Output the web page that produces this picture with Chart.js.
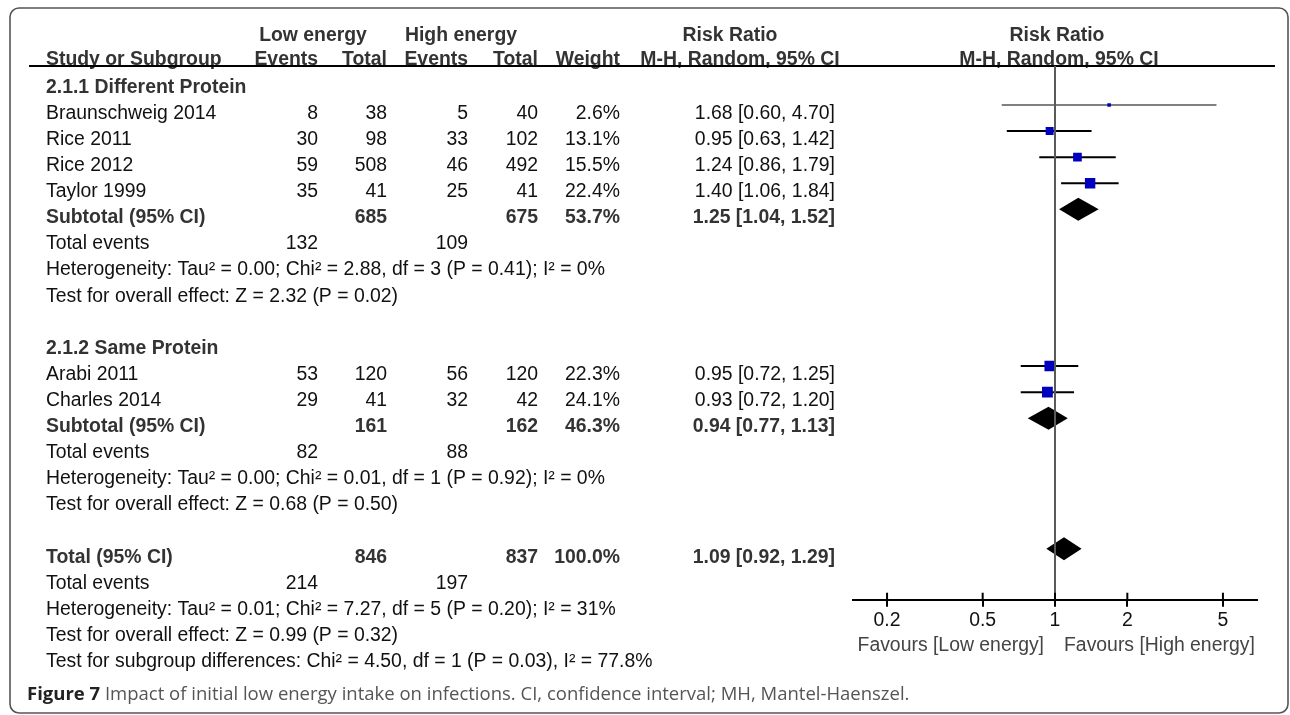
<!DOCTYPE html>
<html>
<head>
<meta charset="utf-8">
<script src="https://cdn.jsdelivr.net/npm/chart.js@4.4.0/dist/chart.umd.min.js"></script>
<style>
  html, body { margin: 0; padding: 0; background: #fff; }
  #wrap { width: 1290px; height: 715px; }
</style>
</head>
<body>
<div id="wrap"><canvas id="forest" width="1290" height="715"></canvas></div>
<script>
// --- data ---
const studies = ['Braunschweig 2014', 'Rice 2011', 'Rice 2012', 'Taylor 1999', 'Arabi 2011', 'Charles 2014'];
const studyRows = [1, 2, 3, 4, 11, 12];
const lowEvents = [8, 30, 59, 35, 53, 29];
const lowTotal = [38, 98, 508, 41, 120, 41];
const highEvents = [5, 33, 46, 25, 56, 32];
const highTotal = [40, 102, 492, 41, 120, 42];
const weights = [2.6, 13.1, 15.5, 22.4, 22.3, 24.1];
const riskRatio = [1.68, 0.95, 1.24, 1.40, 0.95, 0.93];
const ciLower = [0.60, 0.63, 0.86, 1.06, 0.72, 0.72];
const ciUpper = [4.70, 1.42, 1.79, 1.84, 1.25, 1.20];

const groupTitles = ['2.1.1 Different Protein', '2.1.2 Same Protein'];
const groupRows = [0, 10];

const pooledLabels = ['Subtotal (95% CI)', 'Subtotal (95% CI)', 'Total (95% CI)'];
const pooledRows = [5, 13, 18];
const pooledLowTotal = [685, 161, 846];
const pooledHighTotal = [675, 162, 837];
const pooledWeight = [53.7, 46.3, 100.0];
const pooledRR = [1.25, 0.94, 1.09];
const pooledLower = [1.04, 0.77, 0.92];
const pooledUpper = [1.52, 1.13, 1.29];

const eventRows = [6, 14, 19];
const eventsLow = [132, 82, 214];
const eventsHigh = [109, 88, 197];

const noteRows = [7, 8, 15, 16, 20, 21, 22];
const notes = [
    'Heterogeneity: Tau\u00b2 = 0.00; Chi\u00b2 = 2.88, df = 3 (P = 0.41); I\u00b2 = 0%',
    'Test for overall effect: Z = 2.32 (P = 0.02)',
    'Heterogeneity: Tau\u00b2 = 0.00; Chi\u00b2 = 0.01, df = 1 (P = 0.92); I\u00b2 = 0%',
    'Test for overall effect: Z = 0.68 (P = 0.50)',
    'Heterogeneity: Tau\u00b2 = 0.01; Chi\u00b2 = 7.27, df = 5 (P = 0.20); I\u00b2 = 31%',
    'Test for overall effect: Z = 0.99 (P = 0.32)',
    'Test for subgroup differences: Chi\u00b2 = 4.50, df = 1 (P = 0.03), I\u00b2 = 77.8%'
];

const xTicks = [0.2, 0.5, 1, 2, 5];

// --- layout / style ---
const FONT = '"Liberation Sans", Arial, Helvetica, sans-serif';
const CAPTION_FONT = '"Open Sans", "Noto Sans", sans-serif';
const FS = 19.4;
const TEXT_SHIFT = 8.5;          // text sits a little below the marks
const col = { name: 46, lowEv: 318, lowTot: 387, highEv: 468, highTot: 538, weight: 620, ci: 835 };

const fmtCI = (rr, lo, hi) => `${rr.toFixed(2)} [${lo.toFixed(2)}, ${hi.toFixed(2)}]`;

function text(ctx, s, x, y, align, bold, color, baseline) {
    ctx.font = `${bold ? 'bold ' : ''}${FS}px ${FONT}`;
    ctx.fillStyle = color || '#111';
    ctx.textAlign = align || 'left';
    ctx.textBaseline = baseline || 'middle';
    ctx.fillText(s, x, y);
}

const forestPlugin = {
    id: 'forest',
    beforeDraw(chart) {
        const ctx = chart.ctx;
        const y = chart.scales.y;
        const rowY = r => y.getPixelForValue(r) + TEXT_SHIFT;
        ctx.save();
        ctx.fillStyle = '#fff';
        ctx.fillRect(0, 0, chart.width, chart.height);

        // frame
        ctx.strokeStyle = '#555';
        ctx.lineWidth = 1.6;
        ctx.beginPath();
        ctx.roundRect(10, 8, 1278, 705, 9);
        ctx.stroke();

        // header
        const hc = '#333';
        text(ctx, 'Low energy', 313, 40.5, 'center', true, hc, 'alphabetic');
        text(ctx, 'High energy', 461, 40.5, 'center', true, hc, 'alphabetic');
        text(ctx, 'Risk Ratio', 730, 40.5, 'center', true, hc, 'alphabetic');
        text(ctx, 'Risk Ratio', 1057, 40.5, 'center', true, hc, 'alphabetic');
        text(ctx, 'Study or Subgroup', col.name, 65, 'left', true, hc, 'alphabetic');
        text(ctx, 'Events', col.lowEv, 65, 'right', true, hc, 'alphabetic');
        text(ctx, 'Total', col.lowTot, 65, 'right', true, hc, 'alphabetic');
        text(ctx, 'Events', col.highEv, 65, 'right', true, hc, 'alphabetic');
        text(ctx, 'Total', col.highTot, 65, 'right', true, hc, 'alphabetic');
        text(ctx, 'Weight', col.weight, 65, 'right', true, hc, 'alphabetic');
        text(ctx, 'M-H, Random, 95% CI', 740, 65, 'center', true, hc, 'alphabetic');
        text(ctx, 'M-H, Random, 95% CI', 1059, 65, 'center', true, hc, 'alphabetic');

        ctx.strokeStyle = '#000';
        ctx.lineWidth = 2;
        ctx.beginPath();
        ctx.moveTo(29, 66);
        ctx.lineTo(1275, 66);
        ctx.stroke();

        // group titles
        groupTitles.forEach((g, i) => text(ctx, g, col.name, rowY(groupRows[i]), 'left', true, hc));

        // studies
        studies.forEach((s, i) => {
            const ty = rowY(studyRows[i]);
            text(ctx, s, col.name, ty);
            text(ctx, String(lowEvents[i]), col.lowEv, ty, 'right');
            text(ctx, String(lowTotal[i]), col.lowTot, ty, 'right');
            text(ctx, String(highEvents[i]), col.highEv, ty, 'right');
            text(ctx, String(highTotal[i]), col.highTot, ty, 'right');
            text(ctx, weights[i].toFixed(1) + '%', col.weight, ty, 'right');
            text(ctx, fmtCI(riskRatio[i], ciLower[i], ciUpper[i]), col.ci, ty, 'right');
        });

        // subtotals / total
        pooledLabels.forEach((s, i) => {
            const ty = rowY(pooledRows[i]);
            text(ctx, s, col.name, ty, 'left', true, hc);
            text(ctx, String(pooledLowTotal[i]), col.lowTot, ty, 'right', true, hc);
            text(ctx, String(pooledHighTotal[i]), col.highTot, ty, 'right', true, hc);
            text(ctx, pooledWeight[i].toFixed(1) + '%', col.weight, ty, 'right', true, hc);
            text(ctx, fmtCI(pooledRR[i], pooledLower[i], pooledUpper[i]), col.ci, ty, 'right', true, hc);
        });

        // total events
        eventRows.forEach((r, i) => {
            const ty = rowY(r);
            text(ctx, 'Total events', col.name, ty);
            text(ctx, String(eventsLow[i]), col.lowEv, ty, 'right');
            text(ctx, String(eventsHigh[i]), col.highEv, ty, 'right');
        });

        notes.forEach((n, i) => text(ctx, n, col.name, rowY(noteRows[i])));

        // caption
        ctx.textBaseline = 'middle';
        ctx.textAlign = 'left';
        ctx.font = `bold 18.5px ${CAPTION_FONT}`;
        ctx.fillStyle = '#222';
        const lead = 'Figure 7';
        ctx.fillText(lead, 27, 695);
        const w = ctx.measureText(lead + ' ').width;
        ctx.font = `18.5px ${CAPTION_FONT}`;
        ctx.fillStyle = '#555';
        ctx.fillText('Impact of initial low energy intake on infections. CI, confidence interval; MH, Mantel-Haenszel.', 27 + w, 695);
        ctx.restore();
    },
    beforeDatasetsDraw(chart) {
        const ctx = chart.ctx;
        const { x, y } = chart.scales;
        ctx.save();
        // confidence intervals
        studies.forEach((s, i) => {
            const py = y.getPixelForValue(studyRows[i]);
            ctx.strokeStyle = weights[i] < 5 ? '#808080' : '#000';
            ctx.lineWidth = 2;
            ctx.beginPath();
            ctx.moveTo(x.getPixelForValue(ciLower[i]), py);
            ctx.lineTo(x.getPixelForValue(ciUpper[i]), py);
            ctx.stroke();
        });
        // pooled diamonds
        ctx.fillStyle = '#000';
        pooledRows.forEach((r, i) => {
            const py = y.getPixelForValue(r);
            const h = 11.5;
            ctx.beginPath();
            ctx.moveTo(x.getPixelForValue(pooledLower[i]), py);
            ctx.lineTo(x.getPixelForValue(pooledRR[i]), py - h);
            ctx.lineTo(x.getPixelForValue(pooledUpper[i]), py);
            ctx.lineTo(x.getPixelForValue(pooledRR[i]), py + h);
            ctx.closePath();
            ctx.fill();
        });
        ctx.restore();
    },
    afterDatasetsDraw(chart) {
        const ctx = chart.ctx;
        const { x } = chart.scales;
        const area = chart.chartArea;
        const x1 = x.getPixelForValue(1);
        ctx.save();
        // line of no effect
        ctx.strokeStyle = '#5a5a5a';
        ctx.lineWidth = 2;
        ctx.beginPath();
        ctx.moveTo(x1, 66);
        ctx.lineTo(x1, area.bottom);
        ctx.stroke();
        // upper half of tick marks
        ctx.strokeStyle = '#000';
        xTicks.forEach(t => {
            const px = x.getPixelForValue(t);
            ctx.beginPath();
            ctx.moveTo(px, area.bottom - 7);
            ctx.lineTo(px, area.bottom);
            ctx.stroke();
        });
        ctx.font = `${FS}px ${FONT}`;
        ctx.fillStyle = '#444';
        ctx.textBaseline = 'middle';
        ctx.textAlign = 'right';
        ctx.fillText('Favours [Low energy]', x1 - 11, 646);
        ctx.textAlign = 'left';
        ctx.fillText('Favours [High energy]', x1 + 9, 646);
        ctx.restore();
    }
};

new Chart(document.getElementById('forest'), {
    type: 'scatter',
    data: {
        datasets: [{
            data: studies.map((s, i) => ({ x: riskRatio[i], y: studyRows[i] })),
            pointStyle: 'rect',
            pointRadius: weights.map(w => 2.2 * Math.sqrt(w) / Math.SQRT2),
            backgroundColor: '#0000BF',
            borderWidth: 0
        }]
    },
    options: {
        responsive: false,
        animation: false,
        events: [],
        layout: { padding: { left: 853, right: 33, top: 66, bottom: 81 } },
        plugins: { legend: { display: false }, tooltip: { enabled: false } },
        scales: {
            x: {
                type: 'logarithmic',
                min: 0.1443,
                max: 6.93,
                afterBuildTicks: s => { s.ticks = xTicks.map(v => ({ value: v })); },
                ticks: {
                    callback: v => String(v),
                    font: { size: FS, family: FONT },
                    color: '#111',
                    padding: 2,
                    maxRotation: 0,
                    autoSkip: false
                },
                grid: { drawOnChartArea: false, drawTicks: true, tickLength: 7, color: '#000', lineWidth: 2 },
                border: { display: true, color: '#000', width: 2 }
            },
            y: {
                type: 'linear',
                display: false,
                reverse: true,
                min: -0.49,
                max: 19.95
            }
        }
    },
    plugins: [forestPlugin]
});
</script>
</body>
</html>
